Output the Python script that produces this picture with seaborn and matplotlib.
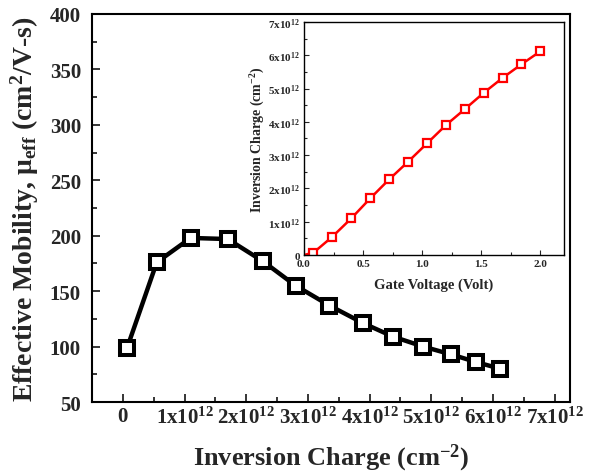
import numpy as np
import pandas as pd
import matplotlib
matplotlib.use("Agg")
import matplotlib.pyplot as plt
from matplotlib.ticker import MultipleLocator, FixedLocator
import seaborn as sns

# ---- data ----
inv_charge = [0.07e12, 0.55e12, 1.10e12, 1.70e12, 2.27e12, 2.80e12, 3.35e12,
              3.90e12, 4.38e12, 4.87e12, 5.32e12, 5.73e12, 6.12e12]
mobility = [99, 176, 198, 197, 177, 155, 137, 121, 109, 100, 93, 86, 80]

gate_voltage = [0.0, 0.08, 0.24, 0.40, 0.56, 0.72, 0.88, 1.04, 1.20, 1.36,
                1.52, 1.68, 1.84, 2.00]
inset_charge = [0.0, 0.07e12, 0.55e12, 1.10e12, 1.70e12, 2.27e12, 2.80e12,
                3.35e12, 3.90e12, 4.38e12, 4.87e12, 5.32e12, 5.73e12, 6.12e12]

main_xticks = [0, 1e12, 2e12, 3e12, 4e12, 5e12, 6e12, 7e12]
main_xticklabels = ['0', '1x10$^{12}$', '2x10$^{12}$', '3x10$^{12}$', '4x10$^{12}$',
                    '5x10$^{12}$', '6x10$^{12}$', '7x10$^{12}$']
inset_yticks = [0, 1e12, 2e12, 3e12, 4e12, 5e12, 6e12, 7e12]
inset_yticklabels = main_xticklabels

sns.set_style("ticks")
plt.rcParams['font.family'] = ['Liberation Serif', 'DejaVu Serif']
plt.rcParams['font.weight'] = 'bold'
plt.rcParams['mathtext.fontset'] = 'custom'
plt.rcParams['mathtext.rm'] = 'Liberation Serif:bold'
plt.rcParams['mathtext.it'] = 'Liberation Serif:italic:bold'
plt.rcParams['mathtext.bf'] = 'Liberation Serif:bold'
plt.rcParams['mathtext.default'] = 'rm'

fig = plt.figure(figsize=(5.99, 4.77), dpi=100)
ax = fig.add_axes([0.1536, 0.1551, 0.798, 0.8135])

df_main = pd.DataFrame({'q': inv_charge, 'mu': mobility})
sns.lineplot(data=df_main, x='q', y='mu', ax=ax, sort=False, color='black',
             linewidth=3.2, marker='s', markersize=10.5, markerfacecolor='white',
             markeredgecolor='black', markeredgewidth=2.9)

ax.set_xlim(-0.5e12, 7.25e12)
ax.set_ylim(50, 400)
ax.xaxis.set_major_locator(FixedLocator(main_xticks))
ax.set_xticklabels(main_xticklabels)
ax.xaxis.set_minor_locator(MultipleLocator(0.5e12))
ax.yaxis.set_major_locator(MultipleLocator(50))
ax.yaxis.set_minor_locator(MultipleLocator(25))
ax.tick_params(which='both', direction='in', top=False, right=False,
               labelsize=15, width=1.3)
ax.tick_params(axis='y', which='major', length=6, pad=8)
ax.tick_params(axis='x', which='major', length=6, pad=3)
ax.tick_params(which='minor', length=3.5)
for lab in ax.get_xticklabels() + ax.get_yticklabels():
    lab.set_fontweight('bold')
for s in ax.spines.values():
    s.set_linewidth(1.5)
    s.set_color('black')
ax.set_xlabel('Inversion Charge (cm$^{-2}$)', fontsize=19, fontweight='bold', labelpad=10)
ax.set_ylabel('Effective Mobility, \u03bc$_{eff}$ (cm$^2$/V-s)', fontsize=20,
              fontweight='bold', labelpad=6)

# ---- inset ----
axi = fig.add_axes([0.5075, 0.4633, 0.4341, 0.4885])
df_in = pd.DataFrame({'vg': gate_voltage, 'q': inset_charge})
sns.lineplot(data=df_in, x='vg', y='q', ax=axi, sort=False, color='#ff0000',
             linewidth=1.8, marker='s', markersize=5.5, markerfacecolor='white',
             markeredgecolor='#ff0000', markeredgewidth=1.6,
             markevery=list(range(1, len(gate_voltage))))
axi.set_xlim(0, 2.2)
axi.set_ylim(0, 7e12)
axi.xaxis.set_major_locator(MultipleLocator(0.5))
axi.xaxis.set_minor_locator(MultipleLocator(0.25))
axi.yaxis.set_major_locator(FixedLocator(inset_yticks))
axi.set_yticklabels(inset_yticklabels)
axi.yaxis.set_minor_locator(MultipleLocator(0.5e12))
axi.xaxis.set_major_formatter(matplotlib.ticker.FormatStrFormatter('%.1f'))
axi.tick_params(which='both', direction='in', top=False, right=False,
                labelsize=8, width=0.8)
axi.tick_params(which='major', length=3.5, pad=3)
axi.tick_params(which='minor', length=2)
for lab in axi.get_xticklabels() + axi.get_yticklabels():
    lab.set_fontweight('bold')
for s in axi.spines.values():
    s.set_linewidth(1.0)
    s.set_color('black')
axi.set_xlabel('Gate Voltage (Volt)', fontsize=10.5, fontweight='bold', labelpad=7)
axi.set_ylabel('Inversion Charge (cm$^{-2}$)', fontsize=10, fontweight='bold', labelpad=0.5)

fig.savefig('out.png', dpi=100)
